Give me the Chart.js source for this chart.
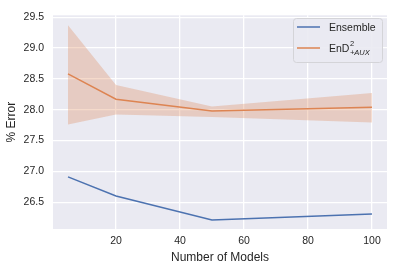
<!DOCTYPE html>
<html>
<head>
<meta charset="utf-8">
<script src="https://cdn.jsdelivr.net/npm/chart.js@4.4.1/dist/chart.umd.min.js"></script>
<style>
  html, body { margin: 0; padding: 0; background: #ffffff; }
  #wrap { width: 400px; height: 271px; }
</style>
</head>
<body>
<div id="wrap"><canvas id="errorChart" width="400" height="271"></canvas></div>
<script>
// values
var modelCounts = [5, 20, 50, 100];
var ensembleErr = [26.91, 26.60, 26.21, 26.31];
var endErr      = [28.58, 28.17, 27.98, 28.04];
var endUpper    = [29.37, 28.40, 28.05, 28.27];
var endLower    = [27.76, 27.92, 27.88, 27.79];
var xTicks = [20, 40, 60, 80, 100];
var yTicks = [26.5, 27.0, 27.5, 28.0, 28.5, 29.0, 29.5];

var blue = '#4C72B0';
var orange = '#DD8452';
var fontFam = '"Liberation Sans", Arial, sans-serif';

function pts(ys) {
    return modelCounts.map(function (x, i) { return { x: x, y: ys[i] }; });
}

// legend drawn by hand so the super/subscript can be shown
var legendPlugin = {
    id: 'mplLegend',
    afterDraw: function (chart) {
        var ctx = chart.ctx;
        ctx.save();
        var x0 = 293.5, y0 = 18.5, w = 89, h = 44;
        ctx.beginPath();
        ctx.roundRect(x0, y0, w, h, 3);
        ctx.fillStyle = 'rgba(234,234,242,0.9)';
        ctx.fill();
        ctx.strokeStyle = '#d4d4d8';
        ctx.lineWidth = 1;
        ctx.stroke();

        ctx.lineWidth = 1.5;
        ctx.strokeStyle = blue;
        ctx.beginPath(); ctx.moveTo(297, 27); ctx.lineTo(320, 27); ctx.stroke();
        ctx.strokeStyle = orange;
        ctx.beginPath(); ctx.moveTo(297, 48); ctx.lineTo(320, 48); ctx.stroke();

        ctx.fillStyle = '#262626';
        ctx.textBaseline = 'alphabetic';
        ctx.font = '10.5px ' + fontFam;
        ctx.fillText('Ensemble', 329, 31);
        ctx.fillText('EnD', 329, 52);
        var wEnD = ctx.measureText('EnD').width;
        ctx.font = '7.5px ' + fontFam;
        ctx.fillText('2', 329 + wEnD + 0.5, 46);
        ctx.font = 'italic 7.5px ' + fontFam;
        ctx.fillText('+AUX', 329 + wEnD + 0.5, 55);
        ctx.restore();
    }
};

var bgPlugin = {
    id: 'axesBg',
    beforeDraw: function (chart) {
        var a = chart.chartArea;
        var ctx = chart.ctx;
        ctx.save();
        ctx.fillStyle = '#EAEAF2';
        ctx.fillRect(a.left, a.top, a.right - a.left, a.bottom - a.top);
        ctx.restore();
    }
};

var ctx = document.getElementById('errorChart').getContext('2d');
var chart = new Chart(ctx, {
    type: 'line',
    data: {
        datasets: [
            {
                label: 'upper',
                data: pts(endUpper),
                borderWidth: 0,
                pointRadius: 0,
                fill: false
            },
            {
                label: 'lower',
                data: pts(endLower),
                borderWidth: 0,
                pointRadius: 0,
                backgroundColor: 'rgba(221,132,82,0.3)',
                fill: '-1'
            },
            {
                label: 'Ensemble',
                data: pts(ensembleErr),
                borderColor: blue,
                borderWidth: 1.5,
                pointRadius: 0,
                fill: false
            },
            {
                label: 'EnD2+AUX',
                data: pts(endErr),
                borderColor: orange,
                borderWidth: 1.5,
                pointRadius: 0,
                fill: false
            }
        ]
    },
    options: {
        responsive: false,
        animation: false,
        layout: { padding: { top: 14, right: 13, left: 0, bottom: 6 } },
        plugins: {
            legend: { display: false },
            tooltip: { enabled: false }
        },
        scales: {
            x: {
                type: 'linear',
                min: 0.31,
                max: 104.7,
                afterBuildTicks: function (axis) {
                    axis.ticks = xTicks.map(function (v) { return { value: v }; });
                },
                afterFit: function (axis) { axis.height = 36; },
                grid: { color: '#ffffff', lineWidth: 1.3, drawTicks: false },
                border: { display: false },
                ticks: {
                    padding: 6,
                    color: '#262626',
                    font: { family: fontFam, size: 10.5 },
                    maxRotation: 0
                },
                title: {
                    display: true,
                    text: 'Number of Models',
                    color: '#262626',
                    font: { family: fontFam, size: 12 },
                    padding: { top: 0, bottom: 0 }
                }
            },
            y: {
                min: 26.065,
                max: 29.53,
                afterBuildTicks: function (axis) {
                    axis.ticks = yTicks.map(function (v) { return { value: v }; });
                },
                afterFit: function (axis) { axis.width = 53; },
                grid: { color: '#ffffff', lineWidth: 1.3, drawTicks: false },
                border: { display: false },
                ticks: {
                    padding: 9,
                    color: '#262626',
                    font: { family: fontFam, size: 10.5 },
                    callback: function (v) { return v.toFixed(1); }
                },
                title: {
                    display: true,
                    text: '% Error',
                    color: '#262626',
                    font: { family: fontFam, size: 12 },
                    padding: { top: 4, bottom: 0 }
                }
            }
        }
    },
    plugins: [bgPlugin, legendPlugin]
});
</script>
</body>
</html>
